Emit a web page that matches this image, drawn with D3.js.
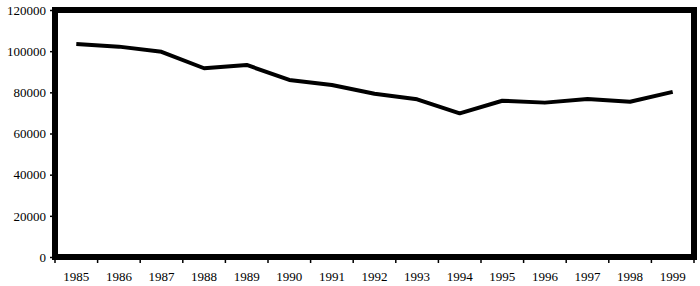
<!DOCTYPE html>
<html>
<head>
<meta charset="utf-8">
<script src="https://cdn.jsdelivr.net/npm/d3@7"></script>
<style>
  body { margin: 0; background: #fff; }
  .axis text { font-family: "Liberation Serif", "DejaVu Serif", serif; font-size: 13px; fill: #000; }
  .axis line { stroke: #000; }
</style>
</head>
<body>
<div id="chart-area"></div>
<script>
var years = ["1985", "1986", "1987", "1988", "1989", "1990", "1991", "1992",
             "1993", "1994", "1995", "1996", "1997", "1998", "1999"];
var values = [103500, 102200, 99700, 91700, 93300, 86000, 83600, 79300,
              76600, 69800, 75900, 75000, 76800, 75400, 80200];
var yTicks = [0, 20000, 40000, 60000, 80000, 100000, 120000];

var margin = { left: 55, right: 6, top: 10, bottom: 29 };
var width = 700 - margin.left - margin.right,
    height = 286 - margin.top - margin.bottom;

var svg = d3.select("#chart-area")
    .append("svg")
    .attr("width", 700)
    .attr("height", 286);

var g = svg.append("g")
    .attr("transform", "translate(" + margin.left + "," + margin.top + ")");

// scales
var x = d3.scaleBand().domain(years).range([0, width]);
var y = d3.scaleLinear().domain([0, 120000]).range([height, 0]);

// Y AXIS
var yAxis = g.append("g")
    .attr("class", "axis")
    .call(d3.axisLeft(y).tickValues(yTicks).tickFormat(d3.format("d"))
        .tickSize(5).tickPadding(4));
yAxis.select(".domain").remove();
yAxis.selectAll("line").attr("stroke-width", 1.5);

// X AXIS - labels centred on bands, ticks at band edges
var xAxis = g.append("g")
    .attr("class", "axis")
    .attr("transform", "translate(0," + height + ")")
    .call(d3.axisBottom(x).tickSize(0).tickPadding(15));
xAxis.select(".domain").remove();

g.append("g")
    .selectAll("line")
    .data(years.concat(["end"]))
    .enter()
    .append("line")
    .attr("x1", function (d, i) { return i * x.step(); })
    .attr("x2", function (d, i) { return i * x.step(); })
    .attr("y1", height)
    .attr("y2", height + 6)
    .attr("stroke", "#000")
    .attr("stroke-width", 1.5);

// frame
g.append("rect")
    .attr("x", 0)
    .attr("y", 0)
    .attr("width", width)
    .attr("height", height)
    .attr("fill", "none")
    .attr("stroke", "#000")
    .attr("stroke-width", 6);

// line
var line = d3.line()
    .x(function (d, i) { return x(years[i]) + x.bandwidth() / 2; })
    .y(function (d) { return y(d); });

g.append("path")
    .datum(values)
    .attr("d", line)
    .attr("fill", "none")
    .attr("stroke", "#000")
    .attr("stroke-width", 4)
    .attr("stroke-linejoin", "round");
</script>
</body>
</html>
